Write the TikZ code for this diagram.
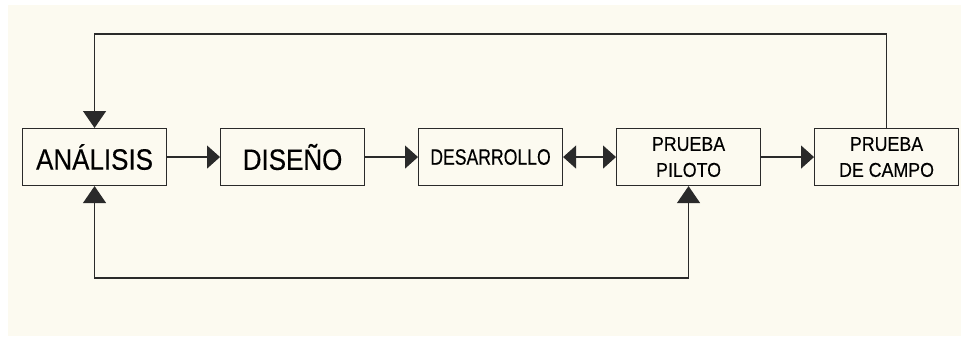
\documentclass[tikz,border=0pt]{standalone}
\usepackage{fontspec}
\setmainfont[FakeBold=0.35]{Liberation Sans}
\usetikzlibrary{arrows.meta}
\definecolor{bg}{HTML}{FCFAF0}
\definecolor{ln}{HTML}{2A2A2A}
\newcommand\sx[2]{\scalebox{#1}[1]{#2}}
\begin{document}
\begin{tikzpicture}[x=1pt,y=-1pt,
  box/.style={draw=ln, line width=1.1pt, minimum width=144pt, minimum height=57pt,
              inner sep=0pt, anchor=north west, align=center, text=black},
  big/.style={font=\fontsize{29.5}{30}\selectfont},
  small/.style={font=\fontsize{20}{26}\selectfont},
  mid/.style={font=\fontsize{22.3}{26}\selectfont},
  conn/.style={draw=ln, line width=1.3pt},
  htip/.tip={Triangle[length=13pt,width=23pt]},
  vtip/.tip={Triangle[length=17pt,width=23pt]}]
\useasboundingbox (0,0) rectangle (961,337);
\fill[bg] (8,5) rectangle (961,336);

\node[box,big]   (ana) at (22,128)  {\sx{0.88}{ANÁLISIS}};
\node[box,big]   (dis) at (220,128) {\sx{0.88}{DISEÑO}};
\node[box,mid]   (des) at (418,128) {\sx{0.79}{DESARROLLO}};
\node[box,small] (pil) at (616,128) {\sx{0.89}{PRUEBA}\\\sx{0.89}{PILOTO}};
\node[box,small] (cam) at (814,128) {\sx{0.89}{PRUEBA}\\\sx{0.89}{DE CAMPO}};

\coordinate (top) at (0,34);
\coordinate (bot) at (0,278);

\draw[conn,-htip] (ana) -- (dis);
\draw[conn,-htip] (dis) -- (des);
\draw[conn,htip-htip] (des) -- (pil);
\draw[conn,-htip] (pil) -- (cam);
\draw[conn,-vtip] (cam.north) -- (cam.north |- top) -| (ana.north);
\draw[conn,vtip-vtip] (ana.south) -- (ana.south |- bot) -| (pil.south);
\end{tikzpicture}
\end{document}
